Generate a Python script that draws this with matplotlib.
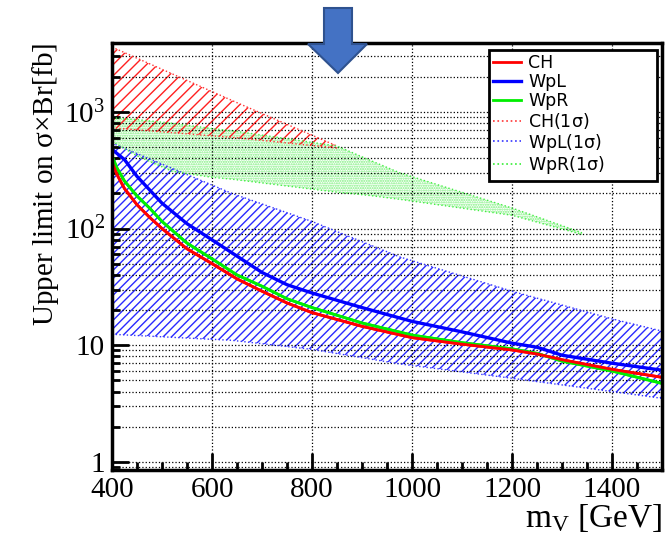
import matplotlib
matplotlib.use("Agg")
import matplotlib.pyplot as plt
from matplotlib.patches import Polygon
from matplotlib.ticker import FixedLocator, FixedFormatter, MultipleLocator, LogLocator, NullFormatter

# expected limits (fb) vs resonance mass (GeV)
mass = [400, 410, 425, 450, 475, 500, 550, 600, 650, 700, 750, 800, 900, 1000,
        1100, 1200, 1250, 1300, 1400, 1500]
ch = [370, 290, 220, 160, 125, 100, 67, 50, 37, 29, 23, 19, 14.5, 11.6,
      10.2, 9.1, 8.4, 7.5, 6.2, 5.3]
wpl = [480, 440, 390, 280, 215, 165, 110, 80, 58, 42, 33, 28, 21, 16,
       13, 10.4, 9.6, 8.2, 7.0, 6.1]
wpr = [420, 330, 255, 190, 150, 115, 75, 55, 40, 32, 25, 21, 15.5, 12.2,
       10.5, 9.3, 8.5, 7.3, 6.0, 4.7]

# 1 sigma bands
ch_band_m = [400, 650, 850]
ch_band_hi = [3600, 1200, 510]
ch_band_lo = [730, 600, 490]

wpl_band_m = [400, 640, 800, 976, 1200, 1400, 1500]
wpl_band_hi = [540, 200, 115, 57, 29, 16.8, 13.2]
wpl_band_lo = [12.4, 11.0, 9.2, 6.9, 5.2, 4.0, 3.5]

wpr_band_m = [400, 450, 520, 600, 640, 850, 916, 976, 1200, 1340]
wpr_band_hi = [890, 860, 800, 720, 690, 510, 385, 300, 150, 92]
wpr_band_lo = [560, 420, 310, 275, 265, 205, 192, 178, 130, 89]

plt.rcParams['font.family'] = ['Liberation Serif', 'DejaVu Serif']
plt.rcParams['mathtext.fontset'] = 'custom'
plt.rcParams['mathtext.rm'] = 'Liberation Serif'
plt.rcParams['mathtext.it'] = 'Liberation Serif'
plt.rcParams['hatch.linewidth'] = 1.0

fig = plt.figure(figsize=(6.66, 5.37), dpi=100)
ax = fig.add_axes([112/666, 1 - 470/537, 550/666, 427/537])

# bands
ax.fill_between(wpr_band_m, wpr_band_lo, wpr_band_hi, facecolor='none',
                edgecolor='#7af07a', hatch='.......', linewidth=0)
ax.fill_between(ch_band_m, ch_band_lo, ch_band_hi, facecolor='none',
                edgecolor='#ff2020', hatch='///', linewidth=0)
ax.fill_between(wpl_band_m, wpl_band_lo, wpl_band_hi, facecolor='none',
                edgecolor='#2a2aff', hatch='////', linewidth=0)
for m, lo, hi, c in [(ch_band_m, ch_band_lo, ch_band_hi, '#ff3333'),
                     (wpl_band_m, wpl_band_lo, wpl_band_hi, '#3333ff'),
                     (wpr_band_m, wpr_band_lo, wpr_band_hi, '#44ee44')]:
    ax.plot(m, lo, ls=':', color=c, lw=1)
    ax.plot(m, hi, ls=':', color=c, lw=1)

# central lines
ax.plot(mass, ch, color='#ff0000', lw=2, label='CH')
ax.plot(mass, wpl, color='#0000ff', lw=2.4, label='WpL')
ax.plot(mass, wpr, color='#00ee00', lw=2, label='WpR')
ax.plot(mass, wpr, color='#00ee00', lw=2)
ax.plot(mass, ch, color='#ff0000', lw=2)

# legend proxies for the bands
ax.plot([], [], ls=':', color='#ff3333', lw=1.2, label=r'CH(1$\mathregular{\sigma}$)')
ax.plot([], [], ls=':', color='#3333ff', lw=1.2, label=r'WpL(1$\mathregular{\sigma}$)')
ax.plot([], [], ls=':', color='#33ee33', lw=1.2, label=r'WpR(1$\mathregular{\sigma}$)')

ax.set_yscale('log')
ax.set_xlim(400, 1500)
ax.set_ylim(0.85, 3900)

ax.yaxis.set_major_locator(FixedLocator([1, 10, 100, 1000]))
ax.yaxis.set_major_formatter(FixedFormatter(['1', '10', r'$\mathregular{10^2}$', r'$\mathregular{10^3}$']))
ax.yaxis.set_minor_locator(LogLocator(base=10, subs=range(2, 10), numticks=20))
ax.yaxis.set_minor_formatter(NullFormatter())
ax.xaxis.set_major_locator(MultipleLocator(200))
ax.xaxis.set_minor_locator(MultipleLocator(50))

ax.tick_params(which='both', direction='in', top=False, right=False, width=2)
ax.tick_params(which='major', length=12, labelsize=21, pad=5)
ax.tick_params(which='minor', length=6)

ax.grid(True, which='major', axis='x', ls=':', color='black', lw=0.9)
ax.grid(True, which='both', axis='y', ls=':', color='black', lw=0.9)

for s in ax.spines.values():
    s.set_linewidth(2.5)

ax.set_ylabel(r'Upper limit on $\mathregular{\sigma}$×Br[fb]', fontsize=21, loc='top', labelpad=2)
ax.set_xlabel(r'$\mathregular{m_V}$ [GeV]', fontsize=24, loc='right', labelpad=0)

leg = ax.legend(loc='upper left',
                bbox_to_anchor=((489 - 112) / 550, (470 - 54) / 427, 168 / 550, 0.01),
                mode='expand',
                prop={'family': 'DejaVu Sans', 'size': 12.5},
                fancybox=False, framealpha=1, edgecolor='black',
                handlelength=1.6, labelspacing=0.05, borderpad=0.25,
                handletextpad=0.4, borderaxespad=0)
leg.get_frame().set_linewidth(2)

# blue arrow at top
px = [(324, 8), (352, 8), (352, 44), (367, 44), (338, 73), (308, 44), (324, 44)]
arrow = Polygon([(x / 666, 1 - y / 537) for x, y in px], closed=True,
                transform=fig.transFigure, facecolor='#4472c4',
                edgecolor='#2f528f', lw=1.5, zorder=10)
fig.add_artist(arrow)

fig.savefig('out.png', dpi=100)
